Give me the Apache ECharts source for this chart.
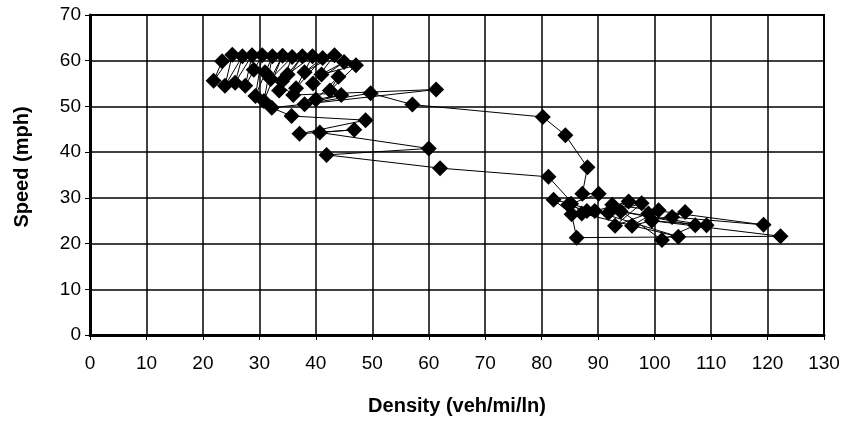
<!DOCTYPE html>
<html>
<head>
<meta charset="utf-8">
<script src="https://cdn.jsdelivr.net/npm/echarts@6/dist/echarts.min.js"></script>
<style>
html,body{margin:0;padding:0;background:#fff;}
#c{width:843px;height:421px;}
</style>
</head>
<body>
<div id="c"></div>
<script>
// Density (veh/mi/ln) in observation order
var density = [23.4,21.9,25.2,23.9,27.0,25.7,28.7,27.5,30.5,29.3,32.3,30.8,34.1,32.0,35.8,33.5,37.6,35.0,39.4,36.5,
  41.2,38.0,43.3,39.5,45.0,41.0,47.1,42.5,44.0,40.0,44.5,38.0,49.7,57.1,80.2,84.2,88.1,87.2,90.1,84.7,
  88.0,89.4,95.4,91.8,97.7,93.0,98.9,100.7,96.0,105.4,103.1,119.3,92.5,101.3,107.2,94.0,109.2,99.5,122.3,86.2,
  85.3,82.1,85.2,104.2,87.1,81.2,62.0,41.9,60.0,40.7,46.8,37.1,48.8,35.7,32.2,61.3,36.0,31.0,34.0,29.0];
// Speed (mph) in observation order
var speed = [59.9,55.6,61.3,54.5,61.0,55.2,61.2,54.5,61.2,52.3,61.0,51.2,61.1,56.0,60.8,53.5,61.0,57.0,61.0,54.0,
  60.6,57.5,61.2,55.0,59.7,57.0,59.0,53.5,56.5,51.5,52.5,50.5,52.9,50.4,47.7,43.7,36.7,30.9,30.9,28.5,
  27.1,27.1,29.2,26.7,28.8,23.9,26.6,27.3,23.9,26.9,25.8,24.1,28.5,20.8,24.0,27.0,24.0,25.0,21.6,21.3,
  26.4,29.6,28.7,21.5,26.6,34.6,36.5,39.4,40.8,44.3,44.9,44.0,47.0,47.9,49.7,53.7,52.5,57.5,55.5,58.0];
var xTicks = [0,10,20,30,40,50,60,70,80,90,100,110,120,130];
var yTicks = [0,10,20,30,40,50,60,70];

var pts = density.map(function(d,i){ return [d, speed[i]]; });
var chart = echarts.init(document.getElementById('c'), null, {renderer:'canvas'});
var font = '"Liberation Sans", Arial, sans-serif';
chart.setOption({
  animation:false,
  backgroundColor:'#fff',
  grid:{left:90, top:15, right:19, bottom:81, show:true, borderColor:'#000', borderWidth:2, backgroundColor:'transparent'},
  xAxis:{
    type:'value', min:xTicks[0], max:xTicks[xTicks.length-1], interval:10,
    name:'Density (veh/mi/ln)', nameLocation:'middle', nameGap:61,
    nameTextStyle:{fontFamily:font, fontSize:20, fontWeight:'bold', color:'#000'},
    axisLine:{show:true, onZero:false, lineStyle:{color:'#000', width:3}},
    axisTick:{show:true, length:5, lineStyle:{color:'#000', width:1}},
    axisLabel:{fontFamily:font, fontSize:19, color:'#000', margin:19},
    splitLine:{show:true, lineStyle:{color:'#000', width:1.5}}
  },
  yAxis:{
    type:'value', min:yTicks[0], max:yTicks[yTicks.length-1], interval:10,
    name:'Speed (mph)', nameLocation:'middle', nameGap:58, nameRotate:90,
    nameTextStyle:{fontFamily:font, fontSize:20, fontWeight:'bold', color:'#000', padding:[0,0,0,16]},
    axisLine:{show:true, onZero:false, lineStyle:{color:'#000', width:3}},
    axisTick:{show:true, length:5, lineStyle:{color:'#000', width:1}},
    axisLabel:{fontFamily:font, fontSize:19, color:'#000', margin:9},
    splitLine:{show:true, lineStyle:{color:'#000', width:1.5}}
  },
  series:[{
    type:'line',
    data:pts,
    symbol:'diamond',
    symbolSize:16,
    showAllSymbol:true,
    itemStyle:{color:'#000'},
    lineStyle:{color:'#000', width:1},
    z:5
  }]
});
</script>
</body>
</html>
